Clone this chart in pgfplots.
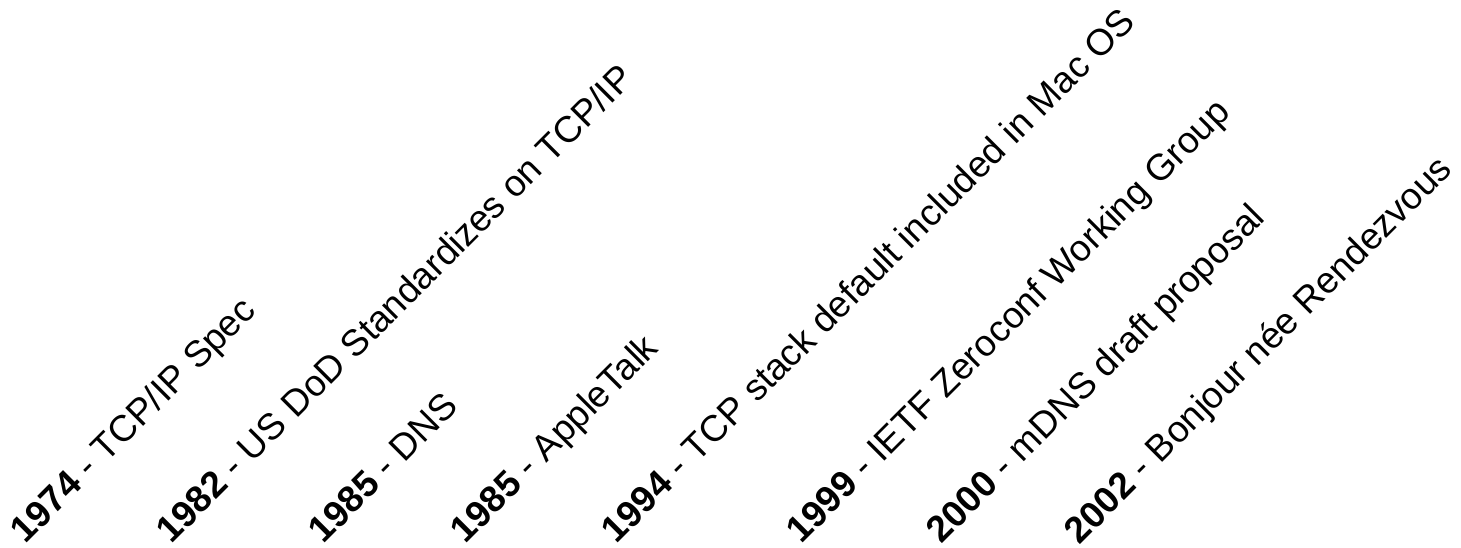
\documentclass[border=0pt]{standalone}
\usepackage{fontspec}
\setmainfont{Liberation Sans}
\usepackage{pgfplots}
\pgfplotsset{compat=1.18}
\begin{document}
\begin{tikzpicture}
\begin{axis}[
    name=ax,
    hide axis,
    scale only axis,
    width=14.61cm, height=5.47cm,
    xmin=0, xmax=1461, ymin=0, ymax=547,
    clip=false,
]
% label start points along the baseline, one per milestone
\addplot[draw=none, mark=none,
    nodes near coords,
    point meta=explicit symbolic,
    every node near coord/.style={anchor=base west, rotate=45, inner sep=0pt,
        font=\fontsize{10.5}{12}\selectfont, text=black},
] coordinates {
    (25,2)   [\textbf{1974} - TCP/IP Spec]
    (171,2)  [\textbf{1982} - US DoD Standardizes on TCP/IP]
    (323,2)  [\textbf{1985} - DNS]
    (465,2)  [\textbf{1985} - AppleTalk]
    (616,2)  [\textbf{1994} - TCP stack default included in Mac OS]
    (801,2)  [\textbf{1999} - IETF Zeroconf Working Group]
    (941,2)  [\textbf{2000} - mDNS draft proposal]
    (1079,1) [\textbf{2002} - Bonjour née Rendezvous]
};
\end{axis}
\pgfresetboundingbox
\path[use as bounding box] (ax.south west) rectangle (ax.north east);
\end{tikzpicture}
\end{document}
